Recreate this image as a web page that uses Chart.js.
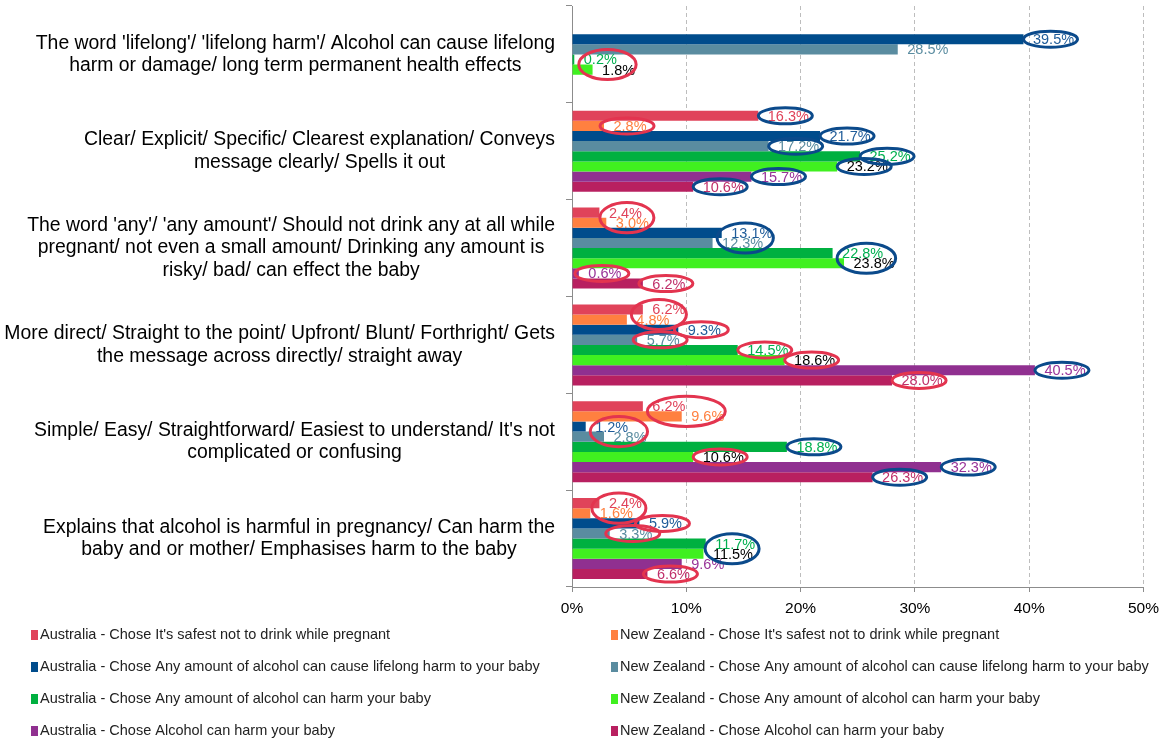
<!DOCTYPE html>
<html>
<head>
<meta charset="utf-8">
<script src="https://cdn.jsdelivr.net/npm/chart.js@4/dist/chart.umd.min.js"></script>
<style>
  html, body { margin: 0; padding: 0; background: #ffffff; }
  #wrap { width: 1166px; height: 742px; position: relative; }
</style>
</head>
<body>
<div id="wrap"><canvas id="chart" width="1166" height="742"></canvas></div>
<script>
// Reasons given for preferring each warning-label wording (multi-line category labels)
const categories = [
  ["The word 'lifelong'/ 'lifelong harm'/ Alcohol can cause lifelong", "harm or damage/ long term permanent health effects"],
  ["Clear/ Explicit/ Specific/ Clearest explanation/ Conveys", "message clearly/ Spells it out"],
  ["The word 'any'/ 'any amount'/ Should not drink any at all while", "pregnant/ not even a small amount/ Drinking any amount is", "risky/ bad/ can effect the baby"],
  ["More direct/ Straight to the point/ Upfront/ Blunt/ Forthright/ Gets", "the message across directly/ straight away"],
  ["Simple/ Easy/ Straightforward/ Easiest to understand/ It's not", "complicated or confusing"],
  ["Explains that alcohol is harmful in pregnancy/ Can harm the", "baby and or mother/ Emphasises harm to the baby"]
];

const seriesNames = [
  "Australia - Chose It's safest not to drink while pregnant",
  "New Zealand - Chose It's safest not to drink while pregnant",
  "Australia - Chose Any amount of alcohol can cause lifelong harm to your baby",
  "New Zealand - Chose Any amount of alcohol can cause lifelong harm to your baby",
  "Australia - Chose Any amount of alcohol can harm your baby",
  "New Zealand - Chose Any amount of alcohol can harm your baby",
  "Australia - Chose Alcohol can harm your baby",
  "New Zealand - Chose Alcohol can harm your baby"
];

// Percentages per category (null = wording not relevant to that reason)
const auSafest    = [null, 16.3, 2.4, 6.2, 6.2, 2.4];
const nzSafest    = [null, 2.8, 3.0, 4.8, 9.6, 1.6];
const auLifelong  = [39.5, 21.7, 13.1, 9.3, 1.2, 5.9];
const nzLifelong  = [28.5, 17.2, 12.3, 5.7, 2.8, 3.3];
const auAnyAmount = [0.2, 25.2, 22.8, 14.5, 18.8, 11.7];
const nzAnyAmount = [1.8, 23.2, 23.8, 18.6, 10.6, 11.5];
const auCanHarm   = [null, 15.7, 0.6, 40.5, 32.3, 9.6];
const nzCanHarm   = [null, 10.6, 6.2, 28.0, 26.3, 6.6];

const xTicks = [0, 10, 20, 30, 40, 50];

const barColors   = ["#E0435A", "#FF8040", "#004C8C", "#5A8CA0", "#00B040", "#40F020", "#903090", "#B82060"];
const labelColors = ["#E0435A", "#FF8040", "#1F5C99", "#5A8CA0", "#00B050", "#000000", "#993399", "#C0306A"];

// Highlight rings drawn around value labels: [category, [series...], colour]
const rings = [
  [0, [2], "blue"], [0, [4, 5], "red"],
  [1, [0], "blue"], [1, [1], "red"], [1, [2], "blue"], [1, [3], "blue"],
  [1, [4], "blue"], [1, [5], "blue"], [1, [6], "blue"], [1, [7], "blue"],
  [2, [0, 1], "red"], [2, [2, 3], "blue"], [2, [4, 5], "blue"], [2, [6], "red"], [2, [7], "red"],
  [3, [0, 1], "red"], [3, [2], "red"], [3, [3], "red"], [3, [4], "red"], [3, [5], "red"],
  [3, [6], "blue"], [3, [7], "red"],
  [4, [0, 1], "red"], [4, [2, 3], "red"], [4, [4], "blue"], [4, [5], "red"], [4, [6], "blue"], [4, [7], "blue"],
  [5, [0, 1], "red"], [5, [2], "red"], [5, [3], "red"], [5, [4, 5], "blue"], [5, [7], "red"]
];
const ringColors = { red: "#E3344F", blue: "#0B4A8B" };

const seriesData = [auSafest, nzSafest, auLifelong, nzLifelong, auAnyAmount, nzAnyAmount, auCanHarm, nzCanHarm];

const FONT = "'Liberation Sans', Arial, sans-serif";
const LABEL_FONT = "14.5px " + FONT;
const LABEL_GAP = 9.5;

function labelBox(chart, ctx, ds, cat) {
  const meta = chart.getDatasetMeta(ds);
  const el = meta.data[cat];
  const v = seriesData[ds][cat];
  if (!el || v === null) return null;
  const text = v.toFixed(1) + "%";
  const w = ctx.measureText(text).width;
  const x = el.x + LABEL_GAP;
  return { text, x, y: el.y, w };
}

const annotationPlugin = {
  id: "annotations",
  afterDatasetsDraw(chart) {
    const ctx = chart.ctx;
    ctx.save();
    ctx.font = LABEL_FONT;
    ctx.textAlign = "left";
    ctx.textBaseline = "middle";
    // value labels at the end of each bar
    for (let ds = 0; ds < seriesData.length; ds++) {
      for (let c = 0; c < categories.length; c++) {
        const b = labelBox(chart, ctx, ds, c);
        if (!b) continue;
        ctx.fillStyle = labelColors[ds];
        ctx.fillText(b.text, b.x, b.y + 1);
      }
    }
    // rings
    ctx.lineWidth = 3;
    rings.forEach(([c, list, col]) => {
      let x0 = Infinity, x1 = -Infinity, y0 = Infinity, y1 = -Infinity;
      list.forEach(ds => {
        const b = labelBox(chart, ctx, ds, c);
        if (!b) return;
        x0 = Math.min(x0, b.x); x1 = Math.max(x1, b.x + b.w);
        y0 = Math.min(y0, b.y - 7); y1 = Math.max(y1, b.y + 7);
      });
      if (x0 === Infinity) return;
      let cx, rx, ry;
      if (list.length === 1) {
        cx = (x0 + x1) / 2 - 3; rx = 27; ry = 8;
      } else {
        cx = (x0 + x1) / 2 - 2; rx = Math.max(27, (x1 - x0) / 2 + 3); ry = (y1 - y0) / 2 + 3;
      }
      const cy = (y0 + y1) / 2;
      ctx.strokeStyle = ringColors[col];
      ctx.beginPath();
      ctx.ellipse(cx, cy, rx, ry, 0, 0, Math.PI * 2);
      ctx.stroke();
    });
    ctx.restore();
  },
  afterDraw(chart) {
    const ctx = chart.ctx;
    const yScale = chart.scales.y;
    ctx.save();
    // category labels: each block right-aligned, lines centred within the block
    ctx.font = "19.4px " + FONT;
    ctx.fillStyle = "#000000";
    ctx.textAlign = "center";
    ctx.textBaseline = "middle";
    const lineH = 22.5;
    const rightEdge = 555;
    categories.forEach((lines, i) => {
      const cy = yScale.getPixelForValue(i);
      const blockW = Math.max(...lines.map(l => ctx.measureText(l).width));
      const cx = rightEdge - blockW / 2;
      const top = cy - (lines.length - 1) * lineH / 2;
      lines.forEach((l, k) => ctx.fillText(l, cx, top + k * lineH));
    });
    // legend, two columns
    ctx.font = "14.5px " + FONT;
    ctx.textAlign = "left";
    const colX = [31, 611];
    const rowY = [635, 667, 699, 731];
    seriesNames.forEach((name, i) => {
      const x = colX[i % 2];
      const y = rowY[Math.floor(i / 2)];
      ctx.fillStyle = barColors[i];
      ctx.fillRect(x, y - 5, 7, 10);
      ctx.fillStyle = "#222222";
      ctx.fillText(name, x + 9, y);
    });
    ctx.restore();
  }
};

const datasets = seriesData.map((d, i) => ({
  label: seriesNames[i],
  data: d,
  backgroundColor: barColors[i],
  borderWidth: 0,
  categoryPercentage: 0.837,
  barPercentage: 1.0
}));

new Chart(document.getElementById("chart"), {
  type: "bar",
  data: { labels: categories.map(l => l.join(" ")), datasets },
  options: {
    indexAxis: "y",
    responsive: false,
    animation: false,
    devicePixelRatio: 1,
    layout: { padding: { top: 6, right: 18, bottom: 125, left: 0 } },
    plugins: { legend: { display: false }, tooltip: { enabled: false } },
    scales: {
      x: {
        min: 0, max: 50,
        afterBuildTicks(scale) { scale.ticks = xTicks.map(v => ({ value: v })); },
        ticks: {
          callback: v => v + "%",
          font: { family: FONT, size: 15.5 },
          color: "#000000",
          padding: 7
        },
        grid: {
          color: c => (c.tick && c.tick.value === 0) ? "rgba(0,0,0,0)" : "#BDBDBD",
          lineWidth: 1,
          tickLength: 5,
          tickColor: "#8C8C8C"
        },
        border: { color: "#8C8C8C", dash: [4, 3] },
        afterFit(scale) { scale.height = 30; }
      },
      y: {
        type: "category",
        offset: true,
        ticks: { display: false },
        grid: { offset: true, drawOnChartArea: false, tickLength: 6, tickColor: "#8C8C8C" },
        border: { color: "#8C8C8C" },
        afterFit(scale) { scale.width = 572; }
      }
    }
  },
  plugins: [annotationPlugin]
});
</script>
</body>
</html>
